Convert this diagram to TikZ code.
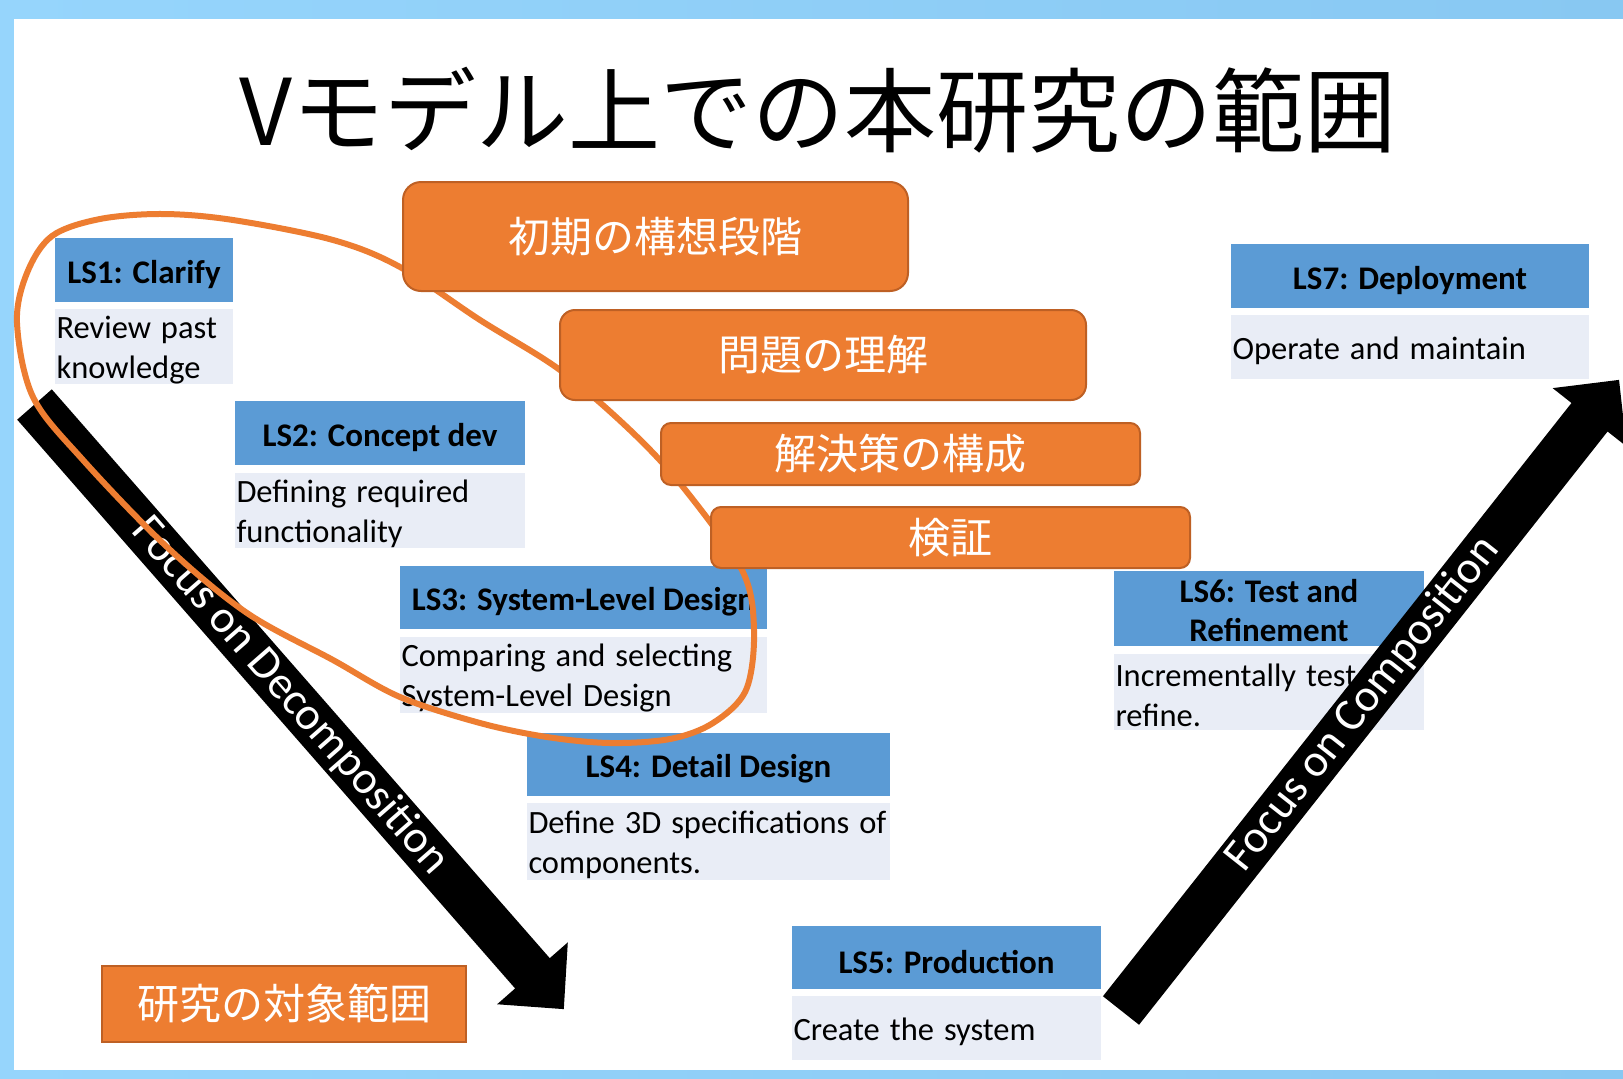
\documentclass[tikz,border=0pt]{standalone}
\usepackage{fontspec}
\setmainfont{Carlito}
\newfontfamily\cjk{Noto Sans CJK JP}
\newcommand\lsbodyfont{\fontsize{32.5}{40}\selectfont\spaceskip=10pt plus 1pt minus 1pt\relax}
\definecolor{frameL}{RGB}{150,213,252}
\definecolor{frameR}{RGB}{136,200,242}
\definecolor{hdrblue}{RGB}{91,155,213}
\definecolor{bodyblue}{RGB}{233,237,246}
\definecolor{orangefill}{RGB}{237,125,49}
\definecolor{orangeline}{RGB}{190,96,36}
\tikzset{
  hdrbox/.style={fill=hdrblue, inner sep=0pt},
  hdrtext/.style={inner sep=0pt, align=center, text=black,
    font=\bfseries\fontsize{33}{39}\selectfont},
  bdybox/.style={fill=bodyblue, inner sep=0pt},
  bdytext/.style={inner sep=0pt, align=left, text=black, anchor=west,
    font=\lsbodyfont},
  obox/.style={fill=orangefill, draw=orangeline, line width=2pt, text=white,
    font=\cjk\fontsize{42}{42}\selectfont},
  bigarrow/.style={fill=black},
  arrowtext/.style={text=white, font=\fontsize{46}{46}\selectfont},
  scopeline/.style={draw=orangefill, line width=6pt}
}
\begin{document}
\begin{tikzpicture}[x=1pt,y=-1pt]
\useasboundingbox (0,0) rectangle (1623,1079);
\shade[left color=frameL, right color=frameR] (0,0) rectangle (1623,1079);
\fill[white] (14,19) rectangle (1623,1070);

% title
\node[font=\cjk\fontsize{92}{92}\selectfont] (title) at (818,110) {Vモデル上での本研究の範囲};

% LS tables: boxes
\node[hdrbox, minimum width=178, minimum height=64] (ls1h) at (144,270) {};
\node[bdybox, minimum width=178, minimum height=75] (ls1b) at (144,346.5) {};
\node[hdrbox, minimum width=290, minimum height=64] (ls2h) at (380,433) {};
\node[bdybox, minimum width=290, minimum height=75] (ls2b) at (380,510.5) {};
\node[hdrbox, minimum width=367, minimum height=63] (ls3h) at (583.5,597.5) {};
\node[bdybox, minimum width=367, minimum height=76] (ls3b) at (583.5,675) {};
\node[hdrbox, minimum width=363, minimum height=63] (ls4h) at (708.5,764.5) {};
\node[bdybox, minimum width=363, minimum height=77] (ls4b) at (708.5,841.5) {};
\node[hdrbox, minimum width=309, minimum height=63] (ls5h) at (946.5,957.5) {};
\node[bdybox, minimum width=309, minimum height=64] (ls5b) at (946.5,1028) {};
\node[hdrbox, minimum width=310, minimum height=75] (ls6h) at (1269,608.5) {};
\node[bdybox, minimum width=310, minimum height=76] (ls6b) at (1269,692) {};
\node[hdrbox, minimum width=358, minimum height=64] (ls7h) at (1410,276) {};
\node[bdybox, minimum width=358, minimum height=64] (ls7b) at (1410,347) {};

% LS tables: texts
\node[hdrtext] (ls1ht) at ([yshift=-4.5pt]ls1h.center) {LS1: Clarify};
\node[hdrtext] (ls2ht) at ([yshift=-4.5pt]ls2h.center) {LS2: Concept dev};
\node[hdrtext] (ls3ht) at ([yshift=-4.5pt]ls3h.center) {LS3: System-Level Design};
\node[hdrtext] (ls4ht) at ([yshift=-4.5pt]ls4h.center) {LS4: Detail Design};
\node[hdrtext] (ls5ht) at ([yshift=-4.5pt]ls5h.center) {LS5: Production};
\node[hdrtext] (ls6ht) at ([yshift=-2pt]ls6h.center) {LS6: Test and\\Refinement};
\node[hdrtext] (ls7ht) at ([yshift=-4.5pt]ls7h.center) {LS7: Deployment};

\node[bdytext] (ls1bt) at ([xshift=1.5pt,yshift=-3.5pt]ls1b.west) {Review past\\knowledge};
\node[bdytext] (ls2bt) at ([xshift=1.5pt,yshift=-3.5pt]ls2b.west) {Defining required\\functionality};
\node[bdytext] (ls3bt) at ([xshift=1.5pt,yshift=-3.5pt]ls3b.west) {Comparing and selecting\\System-Level Design};
\node[bdytext] (ls4bt) at ([xshift=1.5pt,yshift=-3.5pt]ls4b.west) {Define 3D specifications of\\components.};
\node[bdytext] (ls5bt) at ([xshift=1.5pt,yshift=-3.5pt]ls5b.west) {Create the system};
\node[bdytext] (ls6bt) at ([xshift=1.5pt,yshift=-3.5pt]ls6b.west) {Incrementally test \&\\refine.};
\node[bdytext] (ls7bt) at ([xshift=1.5pt,yshift=-3.5pt]ls7b.west) {Operate and maintain};

% big arrows
\coordinate (dectail) at (34.5,404.5);
\coordinate (comptail) at (1121,1010.5);
\begin{scope}[shift={(dectail)}, rotate=-48.8]
  \fill[bigarrow] (0,-23) -- (756,-23) -- (756,-47) -- (803.6,0) -- (756,47) -- (756,23) -- (0,23) -- cycle;
\end{scope}
\begin{scope}[shift={(comptail)}, rotate=51.7]
  \fill[bigarrow] (0,-23) -- (756,-23) -- (756,-47) -- (803.6,0) -- (756,47) -- (756,23) -- (0,23) -- cycle;
\end{scope}
\node[arrowtext, rotate=-48.8] (dectext) at (290,696) {Focus on Decomposition};
\node[arrowtext, rotate=51.7] (comptext) at (1363,704) {Focus on Composition};

% scope outline
\draw[scopeline] plot[smooth cycle, tension=0.55] coordinates {
  (163,214) (233,220) (333,240) (400,267) (480,320) (560,370) (630,430)
  (683,487) (742,570) (754,630) (746,690) (713,723) (670,739) (610,743)
  (547,737) (480,723) (400,697) (333,660) (247,613) (167,547) (83,460)
  (33,397) (17,323) (27,273) (52,236) (100,219)};

% orange phase boxes
\node[obox, rounded corners=18, minimum width=505, minimum height=109] (b1) at (655.5,236.5) {初期の構想段階};
\node[obox, rounded corners=15, minimum width=526, minimum height=90] (b2) at (823,355) {問題の理解};
\node[obox, rounded corners=10, minimum width=479, minimum height=62] (b3) at (900.5,454) {解決策の構成};
\node[obox, rounded corners=10, minimum width=479, minimum height=61] (b4) at (950.5,537.5) {検証};
\node[obox, minimum width=364, minimum height=76] (b5) at (284,1004) {研究の対象範囲};
\end{tikzpicture}
\end{document}
